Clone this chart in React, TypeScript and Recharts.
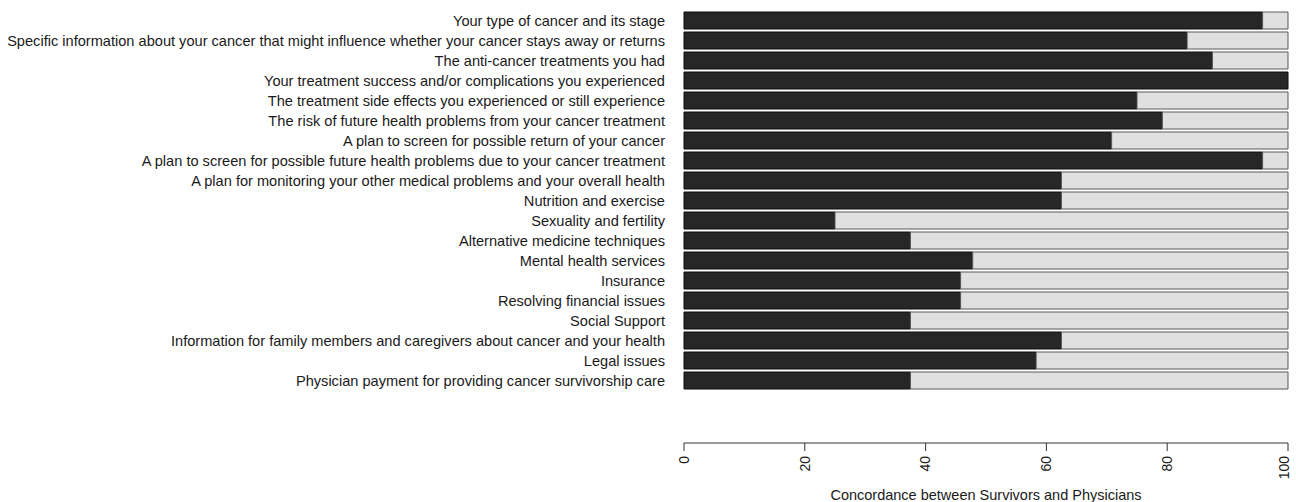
import { BarChart, Bar, XAxis, YAxis } from 'recharts';

const TOPICS = [
  'Your type of cancer and its stage',
  'Specific information about your cancer that might influence whether your cancer stays away or returns',
  'The anti-cancer treatments you had',
  'Your treatment success and/or complications you experienced',
  'The treatment side effects you experienced or still experience',
  'The risk of future health problems from your cancer treatment',
  'A plan to screen for possible return of your cancer',
  'A plan to screen for possible future health problems due to your cancer treatment',
  'A plan for monitoring your other medical problems and your overall health',
  'Nutrition and exercise',
  'Sexuality and fertility',
  'Alternative medicine techniques',
  'Mental health services',
  'Insurance',
  'Resolving financial issues',
  'Social Support',
  'Information for family members and caregivers about cancer and your health',
  'Legal issues',
  'Physician payment for providing cancer survivorship care',
];

// % concordance between survivors and physicians
const CONCORDANCE = [
  95.8, 83.3, 87.5, 100, 75, 79.2, 70.8, 95.8, 62.5, 62.5,
  25, 37.5, 47.8, 45.8, 45.8, 37.5, 62.5, 58.3, 37.5,
];

const X_TICKS = [0, 20, 40, 60, 80, 100];

const FONT = '"Liberation Sans", Arial, Helvetica, sans-serif';

const data = TOPICS.map((topic, i) => ({
  topic,
  agree: CONCORDANCE[i],
  rest: 100 - CONCORDANCE[i],
}));

const TopicTick = ({ x, y, payload }: any) => (
  <text x={x} y={y} dy="0.4em" textAnchor="end" fontSize={14.6} fill="#1a1a1a" fontFamily={FONT}>
    {payload.value}
  </text>
);

const RotatedTick = ({ x, y, payload }: any) => (
  <text
    x={x}
    y={y}
    dy="0.35em"
    textAnchor="end"
    transform={`rotate(-90, ${x}, ${y})`}
    fontSize={14}
    fill="#1a1a1a"
    fontFamily={FONT}
  >
    {payload.value}
  </text>
);

export default function App() {
  return (
    <div style={{ position: 'absolute', left: 0, top: 0, background: '#fff' }}>
      <BarChart
        width={1296}
        height={502}
        data={data}
        layout="vertical"
        margin={{ top: 10, right: 8, bottom: 0, left: 0 }}
        barSize={17}
      >
        <XAxis
          type="number"
          domain={[0, 100]}
          ticks={X_TICKS}
          height={59}
          stroke="#333"
          tickSize={8}
          tickMargin={5}
          tick={<RotatedTick />}
          label={{
            value: 'Concordance between Survivors and Physicians',
            position: 'insideBottom',
            offset: 2,
            fill: '#1a1a1a',
            fontSize: 14.5,
            fontFamily: FONT,
          }}
        />
        <YAxis
          type="category"
          dataKey="topic"
          width={684}
          axisLine={false}
          tickLine={false}
          tickSize={0}
          tickMargin={19}
          interval={0}
          padding={{ top: 0, bottom: 53 }}
          tick={<TopicTick />}
        />
        <Bar dataKey="agree" stackId="a" fill="#272727" stroke="#0d0d0d" strokeWidth={1} isAnimationActive={false} />
        <Bar dataKey="rest" stackId="a" fill="#e0e0e0" stroke="#5a5a5a" strokeWidth={1} isAnimationActive={false} />
      </BarChart>
    </div>
  );
}
